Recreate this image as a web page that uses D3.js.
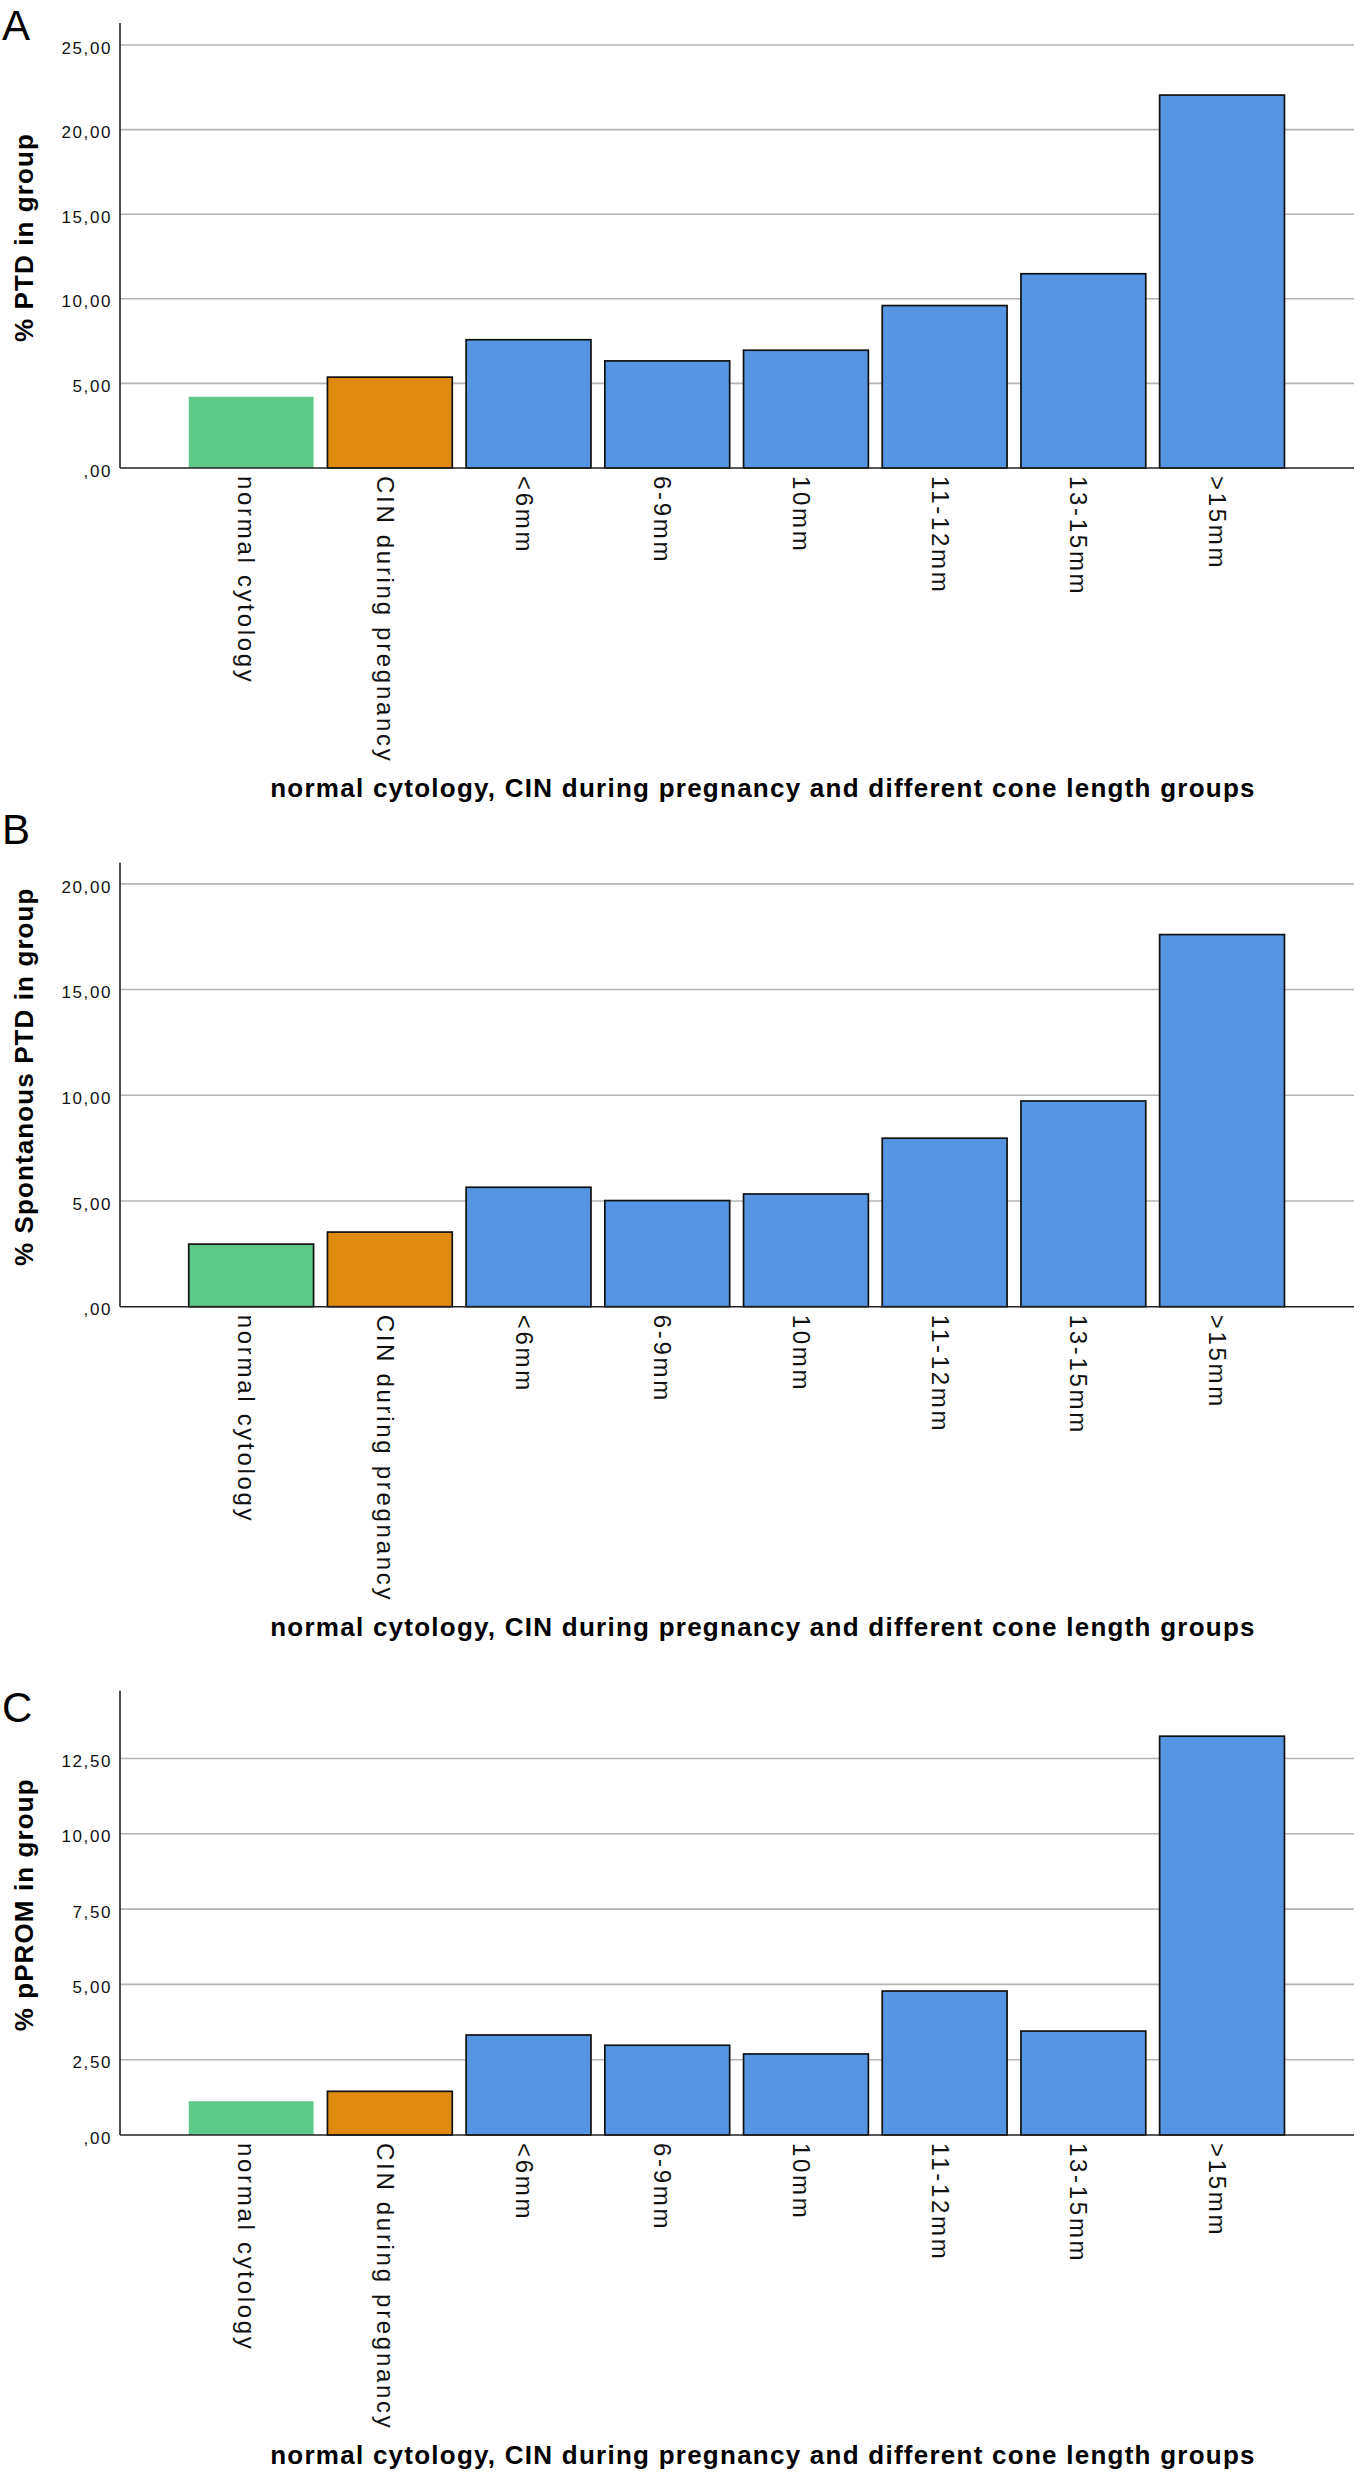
<!DOCTYPE html>
<html>
<head>
<meta charset="utf-8">
<script src="https://cdn.jsdelivr.net/npm/d3@7"></script>
<style>
  html, body { margin: 0; padding: 0; background: #fff; }
  svg { display: block; }
</style>
</head>
<body>
<script>
// ---------- data ----------
const categories = ["normal cytology", "CIN during pregnancy", "<6mm", "6-9mm", "10mm", "11-12mm", "13-15mm", ">15mm"];
const groupKinds = ["normal", "cin", "cone", "cone", "cone", "cone", "cone", "cone"];

const ptdValues      = [4.21, 5.37, 7.58, 6.33, 6.96, 9.60, 11.48, 22.04];
const spontPtdValues = [2.96, 3.53, 5.65, 5.02, 5.33, 7.97, 9.73, 17.60];
const pPromValues    = [1.12, 1.45, 3.32, 2.98, 2.69, 4.78, 3.45, 13.24];

const ptdTicks   = [0, 5, 10, 15, 20, 25];
const spontTicks = [0, 5, 10, 15, 20];
const pPromTicks = [0, 2.5, 5, 7.5, 10, 12.5];

const yMaxValues = [26.3, 21.0, 14.75];

const panelLetters = ["A", "B", "C"];
const yTitles = ["% PTD in group", "% Spontanous PTD in group", "% pPROM in group"];
const xTitle = "normal cytology, CIN during pregnancy and different cone length groups";

// ---------- style / layout ----------
const W = 1360, H = 2476;
const colors = { normal: "#5dc98a", cin: "#e08a12", cone: "#5595e2" };
const plotLeft = 120, plotRight = 1354;
const panels = [
  { values: ptdValues,      ticks: ptdTicks,   top: 23,    base: 468,    letterY: 40,   greenStroke: false },
  { values: spontPtdValues, ticks: spontTicks, top: 862.7, base: 1306.7, letterY: 844,  greenStroke: true },
  { values: pPromValues,    ticks: pPromTicks, top: 1690.7, base: 2135,  letterY: 1722, greenStroke: false }
];

const fmt = v => {
  let s = d3.format(".2f")(v).replace(".", ",");
  if (s.startsWith("0,")) s = s.slice(1);
  return s;
};

const svg = d3.select("body").append("svg")
  .attr("width", W).attr("height", H)
  .attr("viewBox", `0 0 ${W} ${H}`)
  .style("font-family", "'Liberation Sans', Arial, Helvetica, sans-serif");

svg.append("rect").attr("width", W).attr("height", H).attr("fill", "#fff");

const x = d3.scaleBand()
  .domain(categories)
  .range([181.8, 1291.4])
  .paddingInner(0.1)
  .paddingOuter(0.05);

panels.forEach((p, i) => {
  const g = svg.append("g");
  const y = d3.scaleLinear().domain([0, yMaxValues[i]]).range([p.base, p.top]);

  // gridlines
  g.append("g").selectAll("line")
    .data(p.ticks.filter(t => t !== 0))
    .join("line")
    .attr("x1", plotLeft).attr("x2", plotRight)
    .attr("y1", d => y(d)).attr("y2", d => y(d))
    .attr("stroke", "#b3b3b3").attr("stroke-width", 1.6);

  // y axis tick labels
  const yAxis = d3.axisLeft(y).tickValues(p.ticks).tickSize(0).tickPadding(8).tickFormat(fmt);
  const ya = g.append("g").attr("transform", `translate(${plotLeft},0)`).call(yAxis);
  ya.select(".domain").remove();
  ya.selectAll("text")
    .attr("dy", "0.48em")
    .style("font-size", "17px")
    .style("letter-spacing", "1.6px")
    .style("font-family", "'Liberation Sans', Arial, sans-serif")
    .attr("fill", "#111");

  // bars
  g.append("g").selectAll("rect")
    .data(categories.map((c, k) => ({ c, v: p.values[k], kind: groupKinds[k] })))
    .join("rect")
    .attr("x", d => x(d.c))
    .attr("y", d => y(d.v))
    .attr("width", x.bandwidth())
    .attr("height", d => y(0) - y(d.v))
    .attr("fill", d => colors[d.kind])
    .attr("stroke", d => (d.kind === "normal" && !p.greenStroke) ? "none" : "#111")
    .attr("stroke-width", 1.7);

  // axis lines
  g.append("line")
    .attr("x1", plotLeft).attr("x2", plotLeft)
    .attr("y1", p.top).attr("y2", y(0))
    .attr("stroke", "#222").attr("stroke-width", 1.6);
  g.append("line")
    .attr("x1", plotLeft).attr("x2", plotRight)
    .attr("y1", y(0)).attr("y2", y(0))
    .attr("stroke", "#222").attr("stroke-width", 1.6);

  // category labels (rotated)
  g.append("g").selectAll("text")
    .data(categories)
    .join("text")
    .attr("transform", d => `translate(${x(d) + x.bandwidth() / 2 - 13},${y(0) + 8}) rotate(90)`)
    .attr("text-anchor", "start")
    .style("font-size", "24px")
    .style("letter-spacing", "2.7px")
    .attr("fill", "#111")
    .text(d => d);

  // x title
  g.append("text")
    .attr("x", 763).attr("y", y(0) + 329)
    .attr("text-anchor", "middle")
    .style("font-size", "26px")
    .style("font-weight", "bold")
    .style("letter-spacing", "1.25px")
    .attr("fill", "#000")
    .text(xTitle);

  // y title
  g.append("text")
    .attr("transform", `translate(33,${(p.top + p.base) / 2 - 8}) rotate(-90)`)
    .attr("text-anchor", "middle")
    .style("font-size", "26px")
    .style("font-weight", "bold")
    .style("letter-spacing", "1.1px")
    .attr("fill", "#000")
    .text(yTitles[i]);

  // panel letter
  g.append("text")
    .attr("x", 2).attr("y", p.letterY)
    .style("font-size", "42px")
    .attr("fill", "#000")
    .text(panelLetters[i]);
});
</script>
</body>
</html>
